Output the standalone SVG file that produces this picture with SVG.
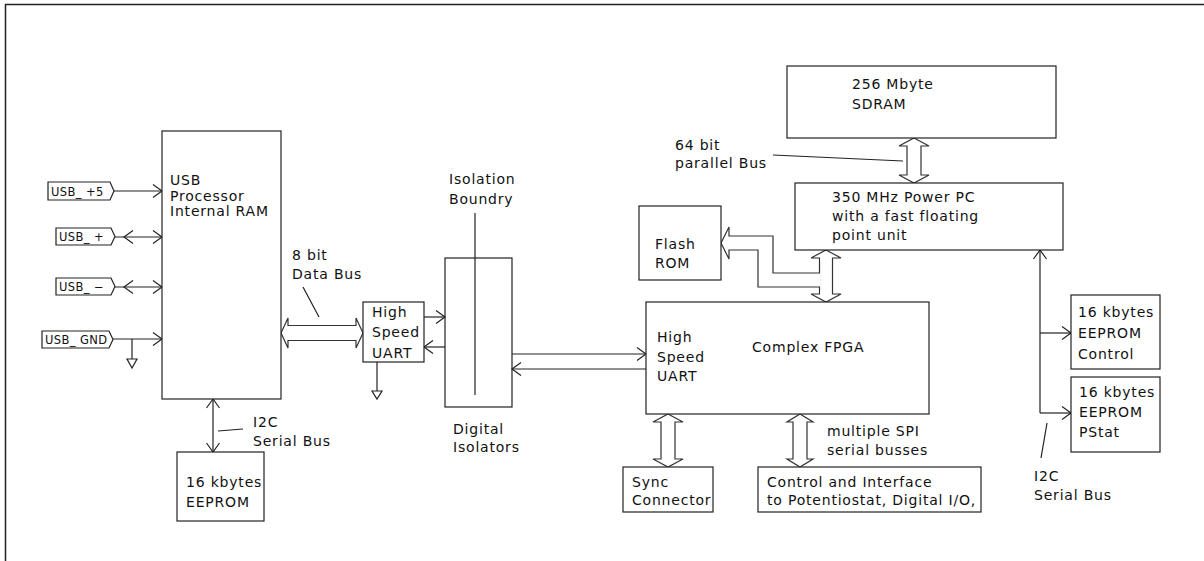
<svg xmlns="http://www.w3.org/2000/svg" width="1204" height="561" viewBox="0 0 1204 561">
<style>
.b{fill:#fff;stroke:#222;stroke-width:1.2}
.l{fill:none;stroke:#222;stroke-width:1.2}
.bus{fill:#fff;stroke:#333;stroke-width:1.2;stroke-linejoin:miter}
text{font-family:"DejaVu Sans","Liberation Sans",sans-serif;font-size:14px;letter-spacing:0.8px;fill:#111}
.s{font-size:11.5px;letter-spacing:0.4px}
</style>
<defs>
<marker id="ch" markerUnits="userSpaceOnUse" viewBox="0 0 20 20" markerWidth="20" markerHeight="20" refX="10" refY="10" orient="auto-start-reverse">
<path d="M1,3.5 L10,10 L1,16.5" fill="none" stroke="#222" stroke-width="1.2"/>
</marker>
</defs>
<rect width="1204" height="561" fill="#fff"/>
<path d="M5.5,561 V4.5 H1204" fill="none" stroke="#222" stroke-width="1.5"/>

<g id="connectors">
<line class="l" x1="114" y1="191" x2="162" y2="191" marker-end="url(#ch)"/>
<line class="l" x1="115" y1="237" x2="162" y2="237" marker-end="url(#ch)"/>
<polyline class="l" points="133,230.5 124,237 133,243.5"/>
<line class="l" x1="115" y1="287" x2="162" y2="287" marker-end="url(#ch)"/>
<polyline class="l" points="133,280.5 124,287 133,293.5"/>
<line class="l" x1="113" y1="339" x2="162" y2="339" marker-end="url(#ch)"/>
<line class="l" x1="132" y1="339" x2="132" y2="359"/>
<polygon class="l" points="127,359 137,359 132,368"/>
<line class="l" x1="377" y1="362" x2="377" y2="391"/>
<polygon class="l" points="372,391 382,391 377,399"/>
<polygon class="bus" points="281,333 288,318 288,325.5 356,325.5 356,318 363,333 356,348 356,340.5 288,340.5 288,348"/>
<line class="l" x1="303" y1="287" x2="319" y2="317"/>
<line class="l" x1="424" y1="317" x2="445" y2="317" marker-end="url(#ch)"/>
<line class="l" x1="445" y1="347" x2="424" y2="347" marker-end="url(#ch)"/>
<line class="l" x1="475" y1="213" x2="475" y2="395"/>
<line class="l" x1="512" y1="354" x2="646" y2="354" marker-end="url(#ch)"/>
<line class="l" x1="646" y1="369" x2="512" y2="369" marker-end="url(#ch)"/>
<line class="l" x1="213" y1="399" x2="213" y2="452" marker-start="url(#ch)" marker-end="url(#ch)"/>
<line class="l" x1="218" y1="431" x2="243" y2="429"/>
<polygon class="bus" points="914,138 929,146 921,146 921,175 929,175 914,183 899,175 907,175 907,146 899,146"/>
<line class="l" x1="773" y1="155" x2="903" y2="161"/>
<polygon class="bus" points="826,250 841,258 832.5,258 832.5,294 841,294 826,302 811,294 819.5,294 819.5,258 811,258"/>
<path class="bus" d="M820,273 H773 V236 H729 V227 L721,243 L729,259 V250 H758 V287 H820"/>
<line x1="819.5" y1="274" x2="819.5" y2="286" stroke="#fff" stroke-width="2"/>
<polygon class="bus" points="668,414 683,422 675,422 675,459 683,459 668,467 653,459 661,459 661,422 653,422"/>
<polygon class="bus" points="800,414 813,422 807,422 807,459 813,459 800,467 787,459 793,459 793,422 787,422"/>
<line class="l" x1="1040" y1="250" x2="1040" y2="413" marker-start="url(#ch)"/>
<line class="l" x1="1040" y1="333" x2="1071" y2="333" marker-end="url(#ch)"/>
<line class="l" x1="1040" y1="413" x2="1071" y2="413" marker-end="url(#ch)"/>
<line class="l" x1="1047" y1="423" x2="1041" y2="458"/>
</g>

<g id="tag-usb5"><polygon class="b" points="48,182 110,182 114,191 110,200 48,200"/><text class="s" x="51" y="195.5">USB_ +5</text></g>
<g id="tag-usbp"><polygon class="b" points="56,228 111,228 115,236.5 111,245 56,245"/><text class="s" x="59" y="241">USB_ +</text></g>
<g id="tag-usbm"><polygon class="b" points="56,278 111,278 115,286.5 111,295 56,295"/><text class="s" x="59" y="291">USB_ −</text></g>
<g id="tag-usbgnd"><polygon class="b" points="42,331 109,331 113,339.5 109,348 42,348"/><text class="s" x="45" y="344">USB_ GND</text></g>

<g id="usb-processor"><rect class="b" x="162" y="131" width="119" height="268"/>
<text x="170" y="185">USB</text><text x="170" y="201">Processor</text><text x="170" y="216">Internal RAM</text></g>

<g id="label-8bit"><text x="292" y="260">8 bit</text><text x="292" y="279">Data Bus</text></g>

<g id="uart"><rect class="b" x="363" y="302" width="61" height="60"/>
<text x="372" y="317">High</text><text x="372" y="337">Speed</text><text x="372" y="358">UART</text></g>

<g id="isolation-label"><text x="449" y="184">Isolation</text><text x="449" y="204">Boundry</text></g>

<g id="isolators"><rect class="l" x="445" y="258" width="67" height="149"/>
<text x="453" y="434">Digital</text><text x="453" y="452">Isolators</text></g>

<g id="i2c-left-label"><text x="253" y="427">I2C</text><text x="253" y="446">Serial Bus</text></g>

<g id="eeprom"><rect class="b" x="177" y="452" width="87" height="69"/>
<text x="186" y="487">16 kbytes</text><text x="186" y="507">EEPROM</text></g>

<g id="sdram"><rect class="b" x="787" y="66" width="269" height="72"/>
<text x="852" y="89">256 Mbyte</text><text x="852" y="109">SDRAM</text></g>

<g id="label-64bit"><text x="675" y="150">64 bit</text><text x="675" y="168">parallel Bus</text></g>

<g id="powerpc"><rect class="b" x="795" y="183" width="268" height="67"/>
<text x="832" y="202">350 MHz Power PC</text><text x="832" y="221">with a fast floating</text><text x="832" y="240">point unit</text></g>

<g id="flash"><rect class="b" x="639" y="206" width="82" height="74"/>
<text x="655" y="249">Flash</text><text x="655" y="268">ROM</text></g>

<g id="fpga"><rect class="b" x="646" y="302" width="283" height="112"/>
<text x="657" y="342">High</text><text x="657" y="362">Speed</text><text x="657" y="381">UART</text>
<text x="752" y="352">Complex FPGA</text></g>

<g id="spi-label"><text x="827" y="436">multiple SPI</text><text x="827" y="455">serial busses</text></g>

<g id="sync"><rect class="b" x="623" y="467" width="90" height="45"/>
<text x="632" y="487">Sync</text><text x="632" y="505">Connector</text></g>

<g id="control"><rect class="b" x="758" y="467" width="223" height="45"/>
<text x="767" y="487">Control and Interface</text><text x="767" y="505">to Potentiostat, Digital I/O,</text></g>

<g id="eeprom-control"><rect class="b" x="1071" y="295" width="89" height="74"/>
<text x="1078" y="317">16 kbytes</text><text x="1078" y="338">EEPROM</text><text x="1078" y="359">Control</text></g>

<g id="eeprom-pstat"><rect class="b" x="1071" y="377" width="89" height="75"/>
<text x="1079" y="397">16 kbytes</text><text x="1079" y="417">EEPROM</text><text x="1079" y="437">PStat</text></g>

<g id="i2c-right-label"><text x="1034" y="481">I2C</text><text x="1034" y="500">Serial Bus</text></g>
</svg>
